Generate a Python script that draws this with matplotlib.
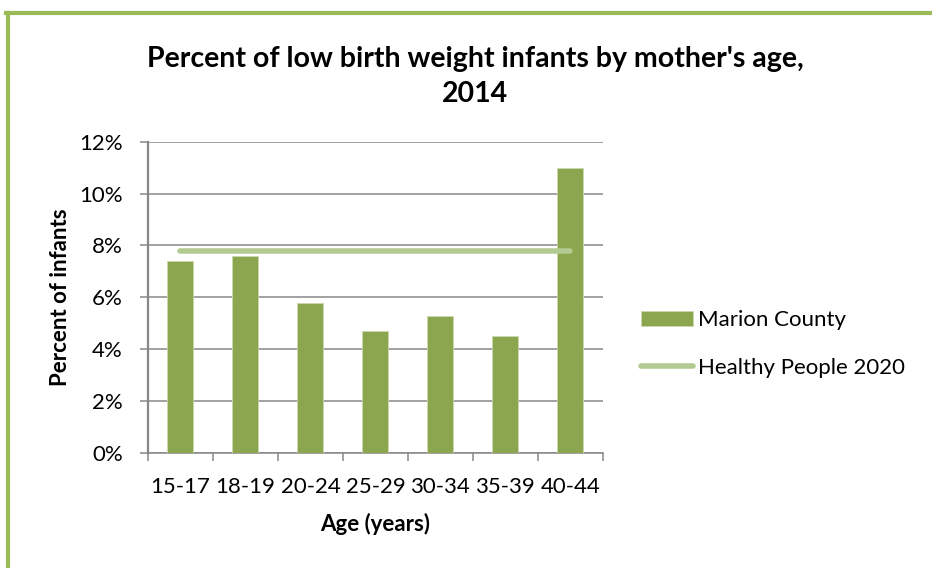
import numpy as np
import matplotlib.pyplot as plt
from matplotlib.lines import Line2D

ages = ['15-17', '18-19', '20-24', '25-29', '30-34', '35-39', '40-44']
marion = [7.4, 7.6, 5.8, 4.7, 5.3, 4.5, 11.0]
healthy_people = [7.8] * len(ages)
yticks = [0, 2, 4, 6, 8, 10, 12]

plt.rcParams['font.family'] = ['Lato', 'DejaVu Sans']

fig = plt.figure(figsize=(9.32, 5.68), dpi=100)
ax = fig.add_axes([0.1588, 0.2025, 0.488, 0.548])

x = np.arange(len(ages))
bars = ax.bar(x, marion, width=0.4, color='#8BA64E', edgecolor='#C9D9AE', linewidth=0.6,
              label='Marion County', zorder=3)
line, = ax.plot(x, healthy_people, color='#B3CB92', linewidth=4, solid_capstyle='round',
                label='Healthy People 2020', zorder=4)

ax.set_xlim(-0.5, len(ages) - 0.5)
ax.set_ylim(0, 12)
ax.set_yticks(yticks)
ax.set_yticklabels([f'{t}%' for t in yticks])
ax.yaxis.grid(True, color='#878787', linewidth=1.1, zorder=0)
ax.set_xticks(x)
ax.set_xticklabels(ages)
ax.set_xticks(np.arange(-0.5, len(ages)), minor=True)
ax.tick_params(axis='x', which='major', length=0, pad=17, labelsize=16)
ax.tick_params(axis='x', which='minor', length=6, color='#878787', width=1.1)
ax.tick_params(axis='y', length=6, color='#878787', width=1.1, labelsize=16, pad=12)

for s in ['top', 'right']:
    ax.spines[s].set_visible(False)
ax.spines['left'].set_color('#878787')
ax.spines['left'].set_linewidth(1.6)
ax.spines['bottom'].set_color('#878787')
ax.spines['bottom'].set_linewidth(1.1)

ax.set_xlabel('Age (years)', fontsize=16, fontweight='bold', labelpad=12)
ax.set_ylabel('Percent of infants', fontsize=16, fontweight='bold', labelpad=6)

fig.text(0.51, 0.866, "Percent of low birth weight infants by mother's age,\n2014",
         ha='center', va='center', fontsize=20.5, fontweight='bold', linespacing=1.42)

ax.legend([bars, line], ['Marion County', 'Healthy People 2020'],
          loc='center left', bbox_to_anchor=(1.085, 0.35), frameon=False,
          fontsize=16, handlelength=2.3, handletextpad=0.25, labelspacing=1.25,
          borderpad=0, borderaxespad=0)

# green border on top and left
fig.add_artist(Line2D([0.0065, 1.0], [0.9775, 0.9775], color='#9BBB59', linewidth=3))
fig.add_artist(Line2D([0.0085, 0.0085], [0.0, 0.9775], color='#9BBB59', linewidth=3))

fig.savefig('out.png', dpi=100)
